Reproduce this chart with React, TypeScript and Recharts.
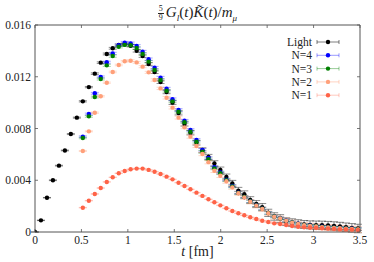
import React from "react";
import { ScatterChart, Scatter, XAxis, YAxis, ErrorBar, Legend } from "recharts";

// lattice time slices in fm
const tSlices = [
  0, 0.064, 0.129, 0.193, 0.258, 0.322, 0.386, 0.451, 0.515, 0.58, 0.644, 0.708, 0.773, 0.837,
  0.902, 0.966, 1.03, 1.095, 1.159, 1.224, 1.288, 1.352, 1.417, 1.481, 1.546, 1.61, 1.674, 1.739,
  1.803, 1.868, 1.932, 1.996, 2.061, 2.125, 2.19, 2.254, 2.318, 2.383, 2.447, 2.512, 2.576, 2.64,
  2.705, 2.769, 2.834, 2.898, 2.962, 3.027, 3.091, 3.156, 3.22, 3.284, 3.349, 3.413, 3.478,
];

const lightVals = [
  0, 0.0009, 0.00265, 0.004, 0.00513, 0.0063, 0.00757, 0.00884, 0.0101, 0.0112, 0.01224, 0.01309,
  0.01376, 0.0142, 0.01445, 0.01453, 0.0144, 0.01401, 0.0136, 0.01299, 0.01237, 0.0116, 0.01082,
  0.01, 0.0092, 0.00835, 0.00768, 0.0069, 0.00632, 0.0058, 0.0053, 0.0048, 0.00425, 0.00375,
  0.0032, 0.00292, 0.00247, 0.00216, 0.00192, 0.00148, 0.0012, 0.00104, 0.0008, 0.00072, 0.00064,
  0.00058, 0.00055, 0.00053, 0.00052, 0.0005, 0.00046, 0.00042, 0.00037, 0.00032, 0.00027,
];
const lightErr = [
  0.00001, 0.00002, 0.00002, 0.00003, 0.00003, 0.00003, 0.00004, 0.00004, 0.00005, 0.00005,
  0.00006, 0.00006, 0.00007, 0.00007, 0.00008, 0.00008, 0.00009, 0.0001, 0.0001, 0.00011,
  0.00012, 0.00012, 0.00013, 0.00014, 0.00015, 0.00016, 0.00017, 0.00018, 0.00019, 0.0002,
  0.00021, 0.00022, 0.00023, 0.00024, 0.00025, 0.00026, 0.00026, 0.00027, 0.00028, 0.00028,
  0.00029, 0.0003, 0.0003, 0.0003, 0.00031, 0.00031, 0.00031, 0.00032, 0.00032, 0.00032,
  0.00033, 0.00033, 0.00033, 0.00033, 0.00033,
];

// the N-series start at the 9th time slice
const nStart = 8;

const n4Vals = [
  0.00737, 0.00912, 0.01072, 0.01198, 0.01312, 0.0138, 0.01443, 0.01463, 0.01458, 0.01438,
  0.01394, 0.01335, 0.0127, 0.01193, 0.01108, 0.01026, 0.00943, 0.0086, 0.00788, 0.00711,
  0.00635, 0.00572, 0.005, 0.0046, 0.00405, 0.00356, 0.00304, 0.00271, 0.00237, 0.00207, 0.00181,
  0.00148, 0.00121, 0.00106, 0.00089, 0.00074, 0.00064, 0.00055, 0.0005, 0.00045, 0.00041,
  0.00037, 0.00034, 0.00031, 0.00028, 0.00025, 0.00022,
];
const n3Vals = [
  0.00727, 0.00894, 0.01043, 0.01183, 0.01288, 0.0136, 0.01432, 0.01446, 0.01443, 0.01422,
  0.01376, 0.01317, 0.01252, 0.01175, 0.01092, 0.0101, 0.0093, 0.00848, 0.00775, 0.00698,
  0.0062, 0.00562, 0.00492, 0.00454, 0.004, 0.00352, 0.00302, 0.0027, 0.00236, 0.00206, 0.0018,
  0.00147, 0.0012, 0.00105, 0.00088, 0.00073, 0.00063, 0.00054, 0.00049, 0.00044, 0.0004,
  0.00036, 0.00033, 0.0003, 0.00027, 0.00024, 0.00021,
];
const n2Vals = [
  0.00626, 0.00778, 0.00922, 0.01049, 0.01154, 0.01237, 0.01291, 0.0132, 0.01324, 0.01311,
  0.01278, 0.01234, 0.01175, 0.0111, 0.01038, 0.00961, 0.00884, 0.00809, 0.00737, 0.00665,
  0.00603, 0.0054, 0.00474, 0.00435, 0.00392, 0.00345, 0.00299, 0.00268, 0.00234, 0.00204,
  0.00178, 0.00145, 0.00118, 0.00104, 0.00087, 0.00072, 0.00062, 0.00052, 0.00047, 0.00042,
  0.00038, 0.00035, 0.00032, 0.00029, 0.00026, 0.00023, 0.0002,
];
const n1Vals = [
  0.00188, 0.00242, 0.00294, 0.0034, 0.00387, 0.00423, 0.00454, 0.00472, 0.00485, 0.0049, 0.0049,
  0.0048, 0.00466, 0.00448, 0.00428, 0.00407, 0.00381, 0.00356, 0.0033, 0.00304, 0.00279,
  0.00253, 0.0023, 0.00206, 0.00183, 0.00162, 0.00145, 0.00129, 0.00114, 0.001, 0.00087, 0.00077,
  0.00067, 0.00062, 0.00054, 0.00046, 0.00041, 0.00036, 0.00033, 0.00031, 0.00029, 0.00026,
  0.00023, 0.0002, 0.0002, 0.00018, 0.00015,
];

const n2Err = [
  0.00004, 0.00004, 0.00005, 0.00005, 0.00005, 0.00006, 0.00006, 0.00006, 0.00007, 0.00007,
  0.00008, 0.00008, 0.00009, 0.00009, 0.0001, 0.0001, 0.00011, 0.00011, 0.00012, 0.00012,
  0.00013, 0.00013, 0.00014, 0.00014, 0.00015, 0.00015, 0.00016, 0.00016, 0.00017, 0.00017,
  0.00018, 0.00018, 0.00019, 0.00019, 0.0002, 0.0002, 0.0002, 0.00021, 0.00021, 0.00021,
  0.00022, 0.00022, 0.00022, 0.00022, 0.00023, 0.00023, 0.00023,
];
const n34Err = [
  0.00006, 0.00007, 0.00007, 0.00008, 0.00008, 0.00009, 0.00009, 0.0001, 0.0001, 0.0001,
  0.0001, 0.0001, 0.0001, 0.0001, 0.0001, 0.0001, 0.0001, 0.0001, 0.0001, 0.0001,
  0.0001, 0.0001, 0.0001, 0.0001, 0.0001, 0.0001, 0.0001, 0.0001, 0.0001, 0.0001,
  0.0001, 0.0001, 0.0001, 0.0001, 0.0001, 0.0001, 0.0001, 0.0001, 0.0001, 0.0001,
  0.0001, 0.0001, 0.0001, 0.0001, 0.0001, 0.0001, 0.0001,
];
const n1Err = n1Vals.map(() => 0.00002);

const xTicks = [0, 0.5, 1, 1.5, 2, 2.5, 3, 3.5];
const yTicks = [0, 0.004, 0.008, 0.012, 0.016];

const fromStart = (vals: number[], errs: number[], offset: number) =>
  vals.map((v, i) => ({ t: tSlices[i + offset], v, err: errs[i] }));

// drawn in legend order: Light first, N=1 last (on top)
const series = [
  { name: "Light", data: fromStart(lightVals, lightErr, 0), color: "#000000", bar: "rgba(0,0,0,0.5)" },
  { name: "N=4", data: fromStart(n4Vals, n34Err, nStart), color: "#0000ff", bar: "rgba(0,0,255,0.4)" },
  { name: "N=3", data: fromStart(n3Vals, n34Err, nStart), color: "#008000", bar: "rgba(0,128,0,0.4)" },
  { name: "N=2", data: fromStart(n2Vals, n2Err, nStart), color: "#ffa07a", bar: "rgba(255,160,122,0.45)" },
  { name: "N=1", data: fromStart(n1Vals, n1Err, nStart), color: "#ff6347", bar: "rgba(255,99,71,0.35)" },
];

const FONT = "'Liberation Serif', 'DejaVu Serif', serif";
const FRAME = "#555";

const BottomTick = (props: any) => {
  const { x, y, payload } = props;
  return (
    <g>
      <line x1={x} x2={x} y1={y} y2={y - 3} stroke={FRAME} strokeWidth={0.8} />
      <text x={x} y={y + 12} textAnchor="middle" fontFamily={FONT} fontSize={11.5} fill="#222">
        {payload.value}
      </text>
    </g>
  );
};
const TopTick = (props: any) => {
  const { x, y } = props;
  return <line x1={x} x2={x} y1={y} y2={y + 3} stroke={FRAME} strokeWidth={0.8} />;
};
const LeftTick = (props: any) => {
  const { x, y, payload } = props;
  return (
    <g>
      <line x1={x} x2={x + 3} y1={y} y2={y} stroke={FRAME} strokeWidth={0.8} />
      <text x={x - 4} y={y + 4} textAnchor="end" fontFamily={FONT} fontSize={11.5} fill="#222">
        {payload.value}
      </text>
    </g>
  );
};
const RightTick = (props: any) => {
  const { x, y } = props;
  return <line x1={x} x2={x - 3} y1={y} y2={y} stroke={FRAME} strokeWidth={0.8} />;
};

const LegendBox = () => (
  <svg width={100} height={72}>
    {series.map((s, k) => {
      const cy = 8 + k * 13.3;
      return (
        <g key={s.name}>
          <text x={62} y={cy + 4} textAnchor="end" fontFamily={FONT} fontSize={11.5} fill="#222">
            {s.name}
          </text>
          <line x1={67} x2={89} y1={cy} y2={cy} stroke={s.bar} strokeWidth={1} />
          <line x1={67} x2={67} y1={cy - 2} y2={cy + 2} stroke={s.bar} strokeWidth={1} />
          <line x1={89} x2={89} y1={cy - 2} y2={cy + 2} stroke={s.bar} strokeWidth={1} />
          <circle cx={78} cy={cy} r={2.2} fill={s.color} />
        </g>
      );
    })}
  </svg>
);

export default function App() {
  return (
    <div style={{ position: "fixed", left: 0, top: 0, width: 374, height: 262, background: "#fff" }}>
      <ScatterChart width={374} height={262} margin={{ top: 0, right: 0, bottom: 0, left: 0 }}>
        <XAxis
          xAxisId="b"
          type="number"
          dataKey="t"
          domain={[0, 3.5]}
          ticks={xTicks}
          height={30}
          tickSize={0}
          tickMargin={0}
          tickLine={false}
          stroke={FRAME}
          tick={BottomTick}
          allowDataOverflow
        />
        <XAxis
          xAxisId="top"
          orientation="top"
          type="number"
          dataKey="t"
          domain={[0, 3.5]}
          ticks={xTicks}
          height={25}
          tickSize={0}
          tickMargin={0}
          tickLine={false}
          stroke={FRAME}
          tick={TopTick}
          allowDataOverflow
        />
        <YAxis
          yAxisId="l"
          type="number"
          dataKey="v"
          domain={[0, 0.016]}
          ticks={yTicks}
          width={35}
          tickSize={0}
          tickMargin={0}
          tickLine={false}
          stroke={FRAME}
          tick={LeftTick}
          allowDataOverflow
        />
        <YAxis
          yAxisId="r"
          orientation="right"
          type="number"
          dataKey="v"
          domain={[0, 0.016]}
          ticks={yTicks}
          width={14}
          tickSize={0}
          tickMargin={0}
          tickLine={false}
          stroke={FRAME}
          tick={RightTick}
          allowDataOverflow
        />
        <Legend
          layout="vertical"
          align="center"
          verticalAlign="middle"
          content={() => <LegendBox />}
          wrapperStyle={{ left: 250, top: 34, width: 100, height: 72 }}
        />
        {series.map((s) => (
          <Scatter
            key={s.name}
            name={s.name}
            data={s.data}
            xAxisId="b"
            yAxisId="l"
            isAnimationActive={false}
            shape={(p: any) => <circle cx={p.cx} cy={p.cy} r={2.2} fill={s.color} />}
          >
            <ErrorBar dataKey="err" direction="y" width={4} stroke={s.bar} strokeWidth={0.9} isAnimationActive={false} />
          </Scatter>
        ))}
      </ScatterChart>
      <div
        style={{
          position: "absolute",
          left: 35,
          top: 2,
          width: 325,
          textAlign: "center",
          fontFamily: FONT,
          fontSize: 15,
          color: "#222",
          lineHeight: "20px",
        }}
      >
        <span
          style={{
            display: "inline-flex",
            flexDirection: "column",
            fontSize: 8,
            lineHeight: "8px",
            verticalAlign: "middle",
            marginRight: 2,
          }}
        >
          <span style={{ borderBottom: "0.6px solid #222", padding: "0 1px" }}>5</span>
          <span>9</span>
        </span>
        <i>G</i>
        <sub style={{ fontSize: 9, fontStyle: "italic" }}>l</sub>(<i>t</i>)<i>K̃</i>(<i>t</i>)/<i>m</i>
        <sub style={{ fontSize: 9, fontStyle: "italic" }}>μ</sub>
      </div>
      <div
        style={{
          position: "absolute",
          left: 35,
          top: 244,
          width: 325,
          textAlign: "center",
          fontFamily: FONT,
          fontSize: 14,
          color: "#222",
          lineHeight: "16px",
        }}
      >
        <i>t</i> [fm]
      </div>
    </div>
  );
}
